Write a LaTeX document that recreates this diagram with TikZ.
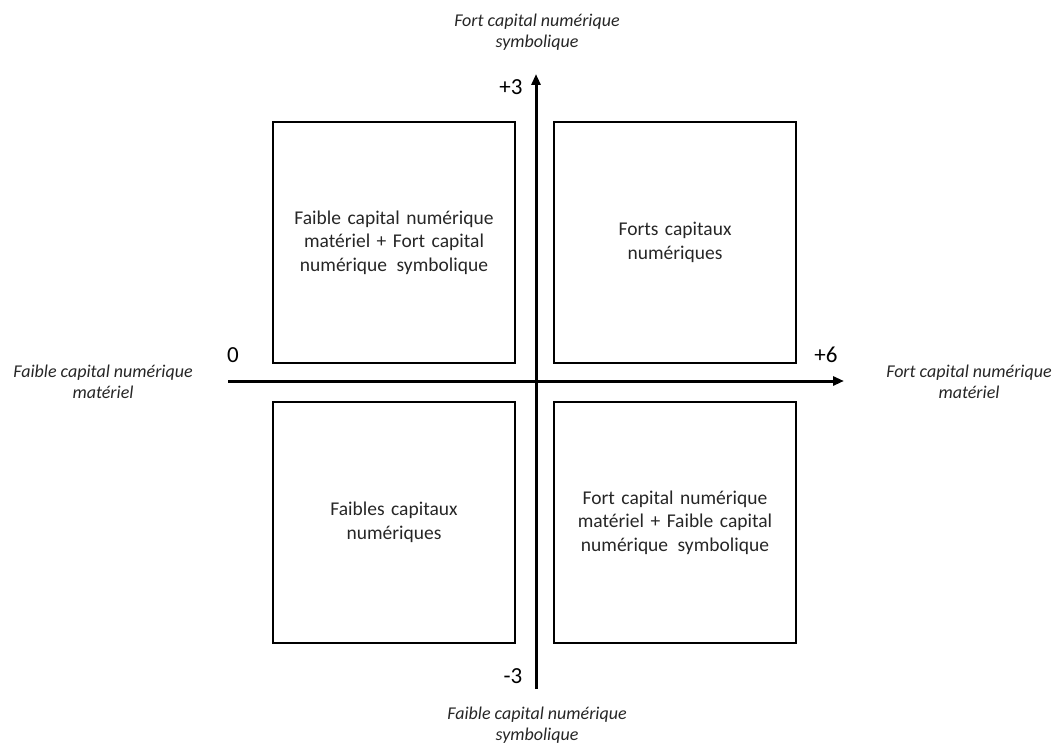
\documentclass[tikz,border=0pt]{standalone}
\usepackage{fontspec}
\setmainfont{Carlito}
\usetikzlibrary{arrows.meta}
\definecolor{txt}{HTML}{262626}
\tikzset{
  quad/.style={draw=black, line width=2pt, minimum width=242pt, minimum height=241pt,
    text width=236pt, align=center, font=\fontsize{19.5}{23.5}\selectfont, text=txt, inner sep=0pt},
  axis/.style={line width=3pt, -{Triangle[length=11pt,width=9pt]}},
  axlab/.style={align=center, font=\fontsize{18}{21}\selectfont\itshape, text=txt},
  num/.style={font=\fontsize{23}{26}\selectfont, text=black}
}
\begin{document}
\begin{tikzpicture}[x=1pt,y=-1pt]
\useasboundingbox (0,0) rectangle (1056,746);
\node[quad] (tl) at (394,242.5) {Faible capital numérique\\ matériel + Fort capital\\ numérique\hspace{3pt} symbolique};
\node[quad] (tr) at (675,242.5) {Forts capitaux\\ numériques};
\node[quad] (bl) at (394,522.5) {Faibles capitaux\\ numériques};
\node[quad] (br) at (675,522.5) {Fort capital numérique\\ matériel + Faible capital\\ numérique\hspace{3pt} symbolique};
\coordinate (xl) at (228,381);
\coordinate (xr) at (844,381);
\coordinate (yb) at (536,689);
\coordinate (yt) at (536,74);
\draw[axis] (xl) -- (xr);
\draw[axis] (yb) -- (yt);
\node[num] (p3) at (511,87) {+3};
\node[num] (z) at (233,355) {0};
\node[num] (p6) at (826,355) {+6};
\node[num] (m3) at (513,676) {-3};
\node[axlab] (lt) at (537,32) {Fort capital numérique\\ symbolique};
\node[axlab] (lb) at (537,725) {Faible capital numérique\\ symbolique};
\node[axlab] (ll) at (103,382) {Faible capital numérique\\ matériel};
\node[axlab] (lr) at (969,382) {Fort capital numérique\\ matériel};
\end{tikzpicture}
\end{document}
